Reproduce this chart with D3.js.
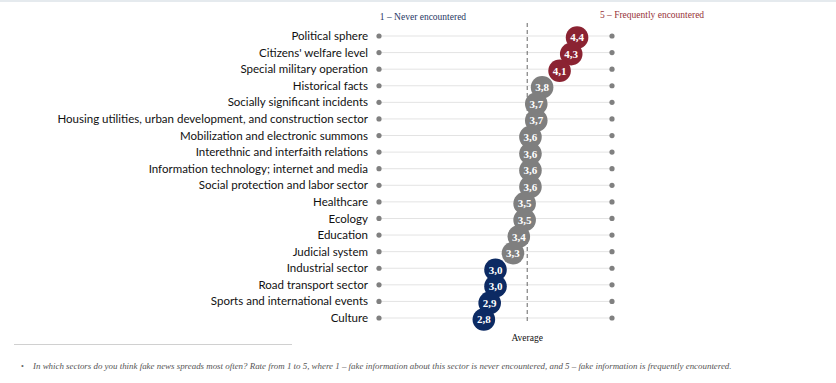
<!DOCTYPE html>
<html><head><meta charset="utf-8">
<script src="https://cdn.jsdelivr.net/npm/d3@7"></script>
<style>
body{margin:0;background:#fff;}
svg{display:block;}
</style></head>
<body>
<svg id="chart" width="836" height="383"></svg>
<script>
const categories = [
  "Political sphere",
  "Citizens' welfare level",
  "Special military operation",
  "Historical facts",
  "Socially significant incidents",
  "Housing utilities, urban development, and construction sector",
  "Mobilization and electronic summons",
  "Interethnic and interfaith relations",
  "Information technology; internet and media",
  "Social protection and labor sector",
  "Healthcare",
  "Ecology",
  "Education",
  "Judicial system",
  "Industrial sector",
  "Road transport sector",
  "Sports and international events",
  "Culture"
];
const values = [4.4, 4.3, 4.1, 3.8, 3.7, 3.7, 3.6, 3.6, 3.6, 3.6, 3.5, 3.5, 3.4, 3.3, 3.0, 3.0, 2.9, 2.8];
const groups = ["high","high","high","mid","mid","mid","mid","mid","mid","mid","mid","mid","mid","mid","low","low","low","low"];
const scaleDomain = [1, 5];
const headerLeft = "1 – Never encountered";
const headerRight = "5 – Frequently encountered";
const averageLabel = "Average";
const footnote = "In which sectors do you think fake news spreads most often? Rate from 1 to 5, where 1 – fake information about this sector is never encountered, and 5 – fake information is frequently encountered.";

const colors = {high:"#8b2332", mid:"#7f7f7f", low:"#0c2a63"};

const svg = d3.select("#chart");
const x = d3.scaleLinear().domain(scaleDomain).range([379, 612]);
const y = d3.scalePoint().domain(categories).range([36, 318]);
const fmt = v => d3.format(".1f")(v).replace(".", ",");
const avg = d3.mean(values);

// top border line
svg.append("line").attr("x1",0).attr("x2",836).attr("y1",1).attr("y2",1)
  .attr("stroke","#dde3e8").attr("stroke-width",1.5);

// gridlines
svg.append("g").selectAll("line").data(categories).join("line")
  .attr("x1", x(scaleDomain[0])).attr("x2", x(scaleDomain[1]))
  .attr("y1", d=>y(d)).attr("y2", d=>y(d))
  .attr("stroke","#e3e3e3").attr("stroke-width",1);

// end dots
svg.append("g").selectAll("circle").data(categories).join("circle")
  .attr("cx", x(scaleDomain[0])).attr("cy", d=>y(d)).attr("r",2.6).attr("fill","#808080");
svg.append("g").selectAll("circle").data(categories).join("circle")
  .attr("cx", x(scaleDomain[1])).attr("cy", d=>y(d)).attr("r",2.6).attr("fill","#808080");

// average dashed line
svg.append("line").attr("x1", x(avg)).attr("x2", x(avg)).attr("y1", 23).attr("y2", 322)
  .attr("stroke","#666").attr("stroke-width",1).attr("stroke-dasharray","4,3");

// category labels
const labels = svg.append("g").selectAll("text").data(categories).join("text")
  .attr("x", 368).attr("y", d=>y(d)).attr("dy","0.35em")
  .attr("text-anchor","end")
  .style("font-family","Lato, 'Open Sans', sans-serif").style("font-size","11px")
  .attr("fill","#111").text(d=>d);

// fit font width to reference (longest label ~311px)
let maxW = 0; labels.each(function(){ maxW = Math.max(maxW, this.getComputedTextLength()); });
const fs = 11 * 311 / maxW;
labels.style("font-size", fs + "px");

// value circles
const pts = svg.append("g").selectAll("g").data(values).join("g")
  .attr("transform", (d,i)=>`translate(${x(d)},${y(categories[i]) + 1.5})`);
pts.append("circle").attr("r", 11.3).attr("fill", (d,i)=>colors[groups[i]]);
pts.append("text").attr("text-anchor","middle").attr("dy","0.36em")
  .style("font-family","'Liberation Serif','Times New Roman',serif").style("font-weight","bold")
  .style("font-size","11px").attr("fill","#fff").text(d=>fmt(d));

// headers
svg.append("text").attr("x", 423).attr("y", 20).attr("text-anchor","middle")
  .style("font-family","'Liberation Serif','Times New Roman',serif").style("font-size","9.5px")
  .attr("fill","#1f3864").text(headerLeft);
svg.append("text").attr("x", 652).attr("y", 18).attr("text-anchor","middle")
  .style("font-family","'Liberation Serif','Times New Roman',serif").style("font-size","9.5px")
  .attr("fill","#963238").text(headerRight);

// average label
svg.append("text").attr("x", x(avg)).attr("y", 341).attr("text-anchor","middle")
  .style("font-family","'Liberation Serif','Times New Roman',serif").style("font-size","9.5px")
  .attr("fill","#111").text(averageLabel);

// footnote separator
svg.append("line").attr("x1",14).attr("x2",292).attr("y1",344.5).attr("y2",344.5)
  .attr("stroke","#d0d0d0").attr("stroke-width",1);
svg.append("text").attr("x",21).attr("y",369)
  .style("font-family","'Liberation Serif','Times New Roman',serif").style("font-size","8px")
  .attr("fill","#666").text("•");
const fn = svg.append("text").attr("x",33).attr("y",369)
  .style("font-family","'Liberation Serif','Times New Roman',serif").style("font-size","8px")
  .style("font-style","italic").attr("fill","#555").text(footnote);
const fnW = fn.node().getComputedTextLength();
fn.style("font-size", (8 * 700 / fnW) + "px");
</script>
</body></html>
